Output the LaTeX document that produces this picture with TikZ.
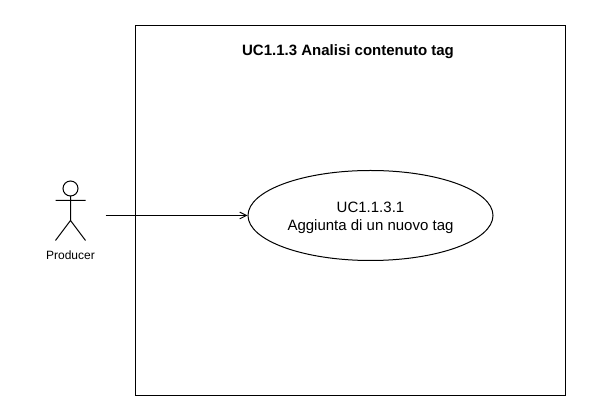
\documentclass[tikz,border=0pt]{standalone}
\usepackage{fontspec}
\setmainfont{Liberation Sans}
\usetikzlibrary{shapes.geometric,arrows.meta}
\tikzset{line/.style={draw=black,line width=0.75pt},
usecase/.style={ellipse,line,minimum width=183.75pt,minimum height=67.5pt,inner sep=0pt},
uctext/.style={align=center,font=\fontsize{11.25pt}{13.5pt}\selectfont}}
\begin{document}
\begin{tikzpicture}[x=0.75pt,y=-0.75pt]
\useasboundingbox[fill=white] (0,0) rectangle (594,413);
\node[line,minimum width=322.5pt,minimum height=277.5pt,inner sep=0pt] (sys) at (350.5,210.5) {};
\node[font=\bfseries\fontsize{11.25pt}{13.5pt}\selectfont] (title) at (348,51.5) {UC1.1.3 Analisi contenuto tag};
\node[usecase] (uc) at (370.5,215.5) {};
\node[uctext] (uclabel) at (370.5,217.5) {UC1.1.3.1\\Aggiunta di un nuovo tag};
\draw[line] (70.5,188.5) circle (7.5);
\draw[line] (70.5,196) -- (70.5,220.5) (55.5,200.5) -- (85.5,200.5) (55.5,240.5) -- (70.5,220.5) -- (85.5,240.5);
\node[font=\fontsize{9pt}{11pt}\selectfont] (actor) at (70.5,255.5) {Producer};
\coordinate (start) at (105.5,215.5);
\draw[line,-{Straight Barb[length=5pt,width=5pt]}] (start) -- (uc.west);
\end{tikzpicture}
\end{document}
